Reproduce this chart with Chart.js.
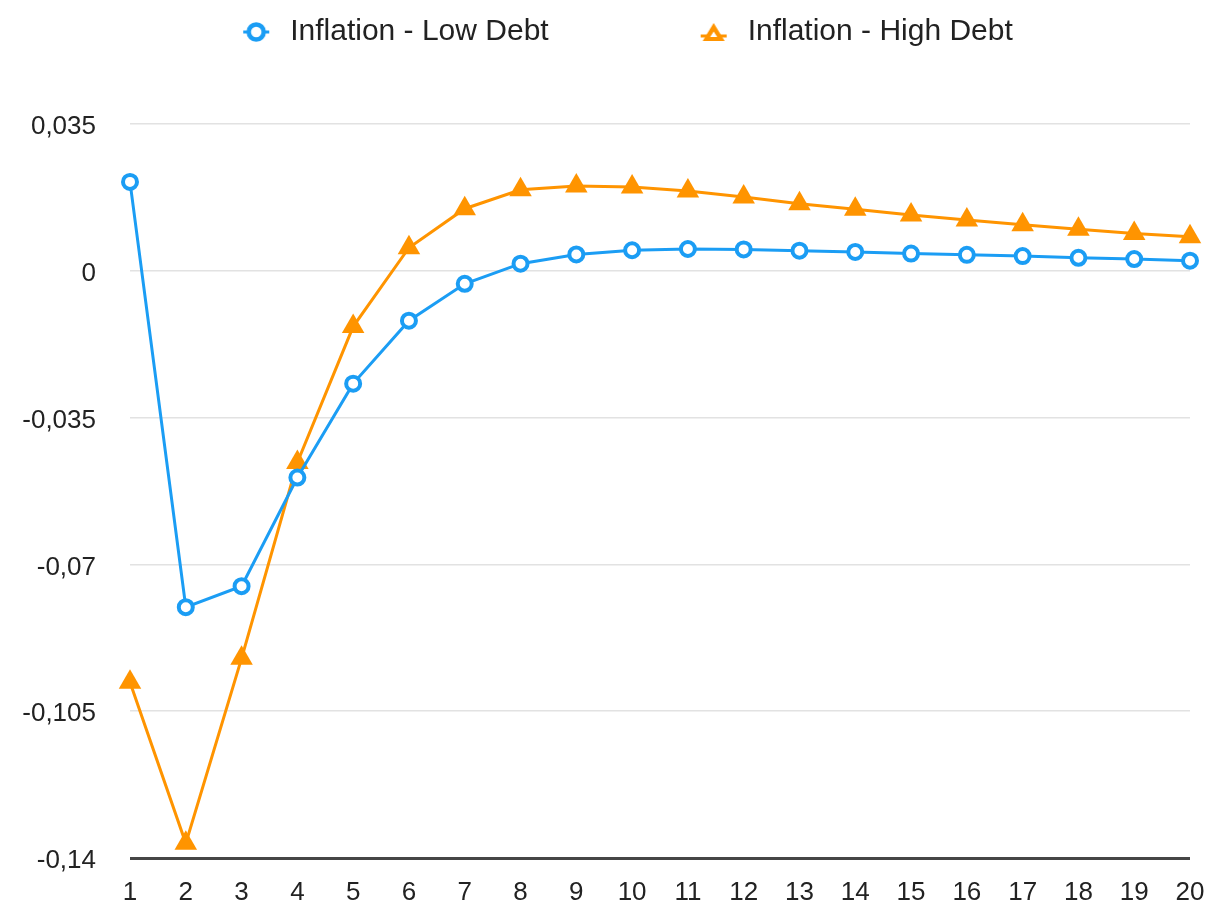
<!DOCTYPE html>
<html>
<head>
<meta charset="utf-8">
<title>Inflation - Low Debt vs High Debt</title>
<script src="https://cdn.jsdelivr.net/npm/chart.js@4.4.1/dist/chart.umd.min.js"></script>
<style>
  html, body { margin: 0; padding: 0; background: #ffffff; }
  #wrap { position: relative; width: 1211px; height: 904px; }
</style>
</head>
<body>
<div id="wrap"><canvas id="chart"></canvas></div>
<script>
// Periods on the horizontal axis
const periods = ['1','2','3','4','5','6','7','8','9','10','11','12','13','14','15','16','17','18','19','20'];

// Inflation response, low-debt regime
const inflationLowDebt = [0.0212, -0.0802, -0.0752, -0.0493, -0.0269, -0.0119, -0.0031, 0.0017, 0.0039, 0.0049,
                          0.0052, 0.0051, 0.0048, 0.0045, 0.0041, 0.0038, 0.0035, 0.0031, 0.0028, 0.0024];

// Inflation response, high-debt regime
const inflationHighDebt = [-0.0981, -0.1365, -0.0924, -0.0457, -0.0133, 0.0055, 0.0148, 0.0193, 0.0202, 0.0200,
                           0.0190, 0.0176, 0.0160, 0.0147, 0.0133, 0.0121, 0.0110, 0.0099, 0.0089, 0.0081];

// Value axis ticks
const yTicks = [-0.14, -0.105, -0.07, -0.035, 0, 0.035];

const seriesNames = ['Inflation - Low Debt', 'Inflation - High Debt'];

const BLUE = '#1b9df4';
const ORANGE = '#ff9400';
const FONT = '"Liberation Sans", Arial, Helvetica, sans-serif';

// Legend swatches: marker with a short line stub through it
function circleSwatch(color) {
  const c = document.createElement('canvas');
  c.width = 30; c.height = 24;
  const g = c.getContext('2d');
  g.strokeStyle = color;
  g.lineWidth = 3;
  g.beginPath(); g.moveTo(2, 12); g.lineTo(28, 12); g.stroke();
  g.beginPath(); g.arc(15, 12, 7.5, 0, Math.PI * 2);
  g.fillStyle = '#ffffff'; g.fill();
  g.lineWidth = 4.5; g.stroke();
  return c;
}
function triangleSwatch(color) {
  const c = document.createElement('canvas');
  c.width = 30; c.height = 24;
  const g = c.getContext('2d');
  g.strokeStyle = color;
  g.lineWidth = 3;
  g.beginPath(); g.moveTo(2, 16); g.lineTo(28, 16); g.stroke();
  g.fillStyle = color;
  g.beginPath(); g.moveTo(15, 3); g.lineTo(26, 21); g.lineTo(4, 21); g.closePath(); g.fill();
  g.fillStyle = '#ffffff';
  g.beginPath(); g.moveTo(15, 11.5); g.lineTo(18.5, 17); g.lineTo(11.5, 17); g.closePath(); g.fill();
  return c;
}
const swatches = [circleSwatch(BLUE), triangleSwatch(ORANGE)];

// Legend band height, and where its single row is drawn
const LEGEND_HEIGHT = 124;
const LEGEND_ROW_CENTER = 32;
const LEGEND_LEFT = 60;

const legendPlacement = {
  id: 'legendPlacement',
  beforeInit(chart) {
    const legend = chart.legend;
    const fit = legend.fit;
    legend.fit = function () {
      fit.call(this);
      this.height = LEGEND_HEIGHT;
      this.bottom = this.top + LEGEND_HEIGHT;
    };
    const draw = legend.draw;
    legend.draw = function (area) {
      const top = this.top, left = this.left, width = this.width;
      const size = this.options.labels.font.size;
      this.top = LEGEND_ROW_CENTER - size / 2 - this.options.labels.padding;
      this.left = LEGEND_LEFT;
      this.width = this.right - this.left;
      draw.call(this, area);
      this.top = top; this.left = left; this.width = width;
    };
  }
};

const isBase = v => Math.abs(v - yTicks[0]) < 1e-9;

new Chart(document.getElementById('chart'), {
  type: 'line',
  data: {
    labels: periods,
    datasets: [
      {
        label: seriesNames[0],
        data: inflationLowDebt,
        borderColor: BLUE,
        backgroundColor: BLUE,
        borderWidth: 3,
        pointStyle: 'circle',
        pointRadius: 7,
        pointHoverRadius: 7,
        pointBorderWidth: 4,
        pointBackgroundColor: '#ffffff',
        pointBorderColor: BLUE,
        tension: 0
      },
      {
        label: seriesNames[1],
        data: inflationHighDebt,
        borderColor: ORANGE,
        backgroundColor: ORANGE,
        borderWidth: 3,
        pointStyle: 'triangle',
        pointRadius: 13,
        pointHoverRadius: 13,
        pointBorderWidth: 0,
        pointBackgroundColor: ORANGE,
        pointBorderColor: ORANGE,
        tension: 0
      }
    ]
  },
  options: {
    responsive: true,
    maintainAspectRatio: false,
    animation: false,
    layout: { padding: { left: 0, right: 21, top: 0, bottom: 0 } },
    plugins: {
      tooltip: { enabled: false },
      legend: {
        display: true,
        position: 'top',
        align: 'center',
        labels: {
          usePointStyle: true,
          pointStyleWidth: 38,
          padding: 146,
          color: '#222222',
          font: { family: FONT, size: 30 },
          generateLabels(chart) {
            const items = Chart.defaults.plugins.legend.labels.generateLabels(chart);
            items.forEach((item, i) => { item.pointStyle = swatches[i]; });
            return items;
          }
        }
      }
    },
    scales: {
      x: {
        offset: false,
        grid: { display: false, drawTicks: false },
        border: { display: false },
        ticks: {
          color: '#222222',
          font: { family: FONT, size: 26 },
          padding: 19,
          maxRotation: 0,
          autoSkip: false
        },
        afterFit(scale) {
          scale.height = 46;
          scale.paddingLeft = 0;
          scale.paddingRight = 0;
        }
      },
      y: {
        min: yTicks[0],
        max: yTicks[yTicks.length - 1],
        afterBuildTicks(scale) { scale.ticks = yTicks.map(value => ({ value })); },
        grid: {
          drawTicks: false,
          color: ctx => (ctx.tick && isBase(ctx.tick.value)) ? '#464646' : '#e2e2e2',
          lineWidth: ctx => (ctx.tick && isBase(ctx.tick.value)) ? 3 : 1.5
        },
        border: { display: false },
        ticks: {
          color: '#222222',
          font: { family: FONT, size: 26 },
          padding: 34,
          labelOffset: 3,
          callback: v => String(+Number(v).toFixed(3)).replace('.', ',')
        },
        afterFit(scale) {
          scale.width = 130;
          scale.paddingTop = 0;
          scale.paddingBottom = 0;
        }
      }
    }
  },
  plugins: [legendPlacement]
});
</script>
</body>
</html>
